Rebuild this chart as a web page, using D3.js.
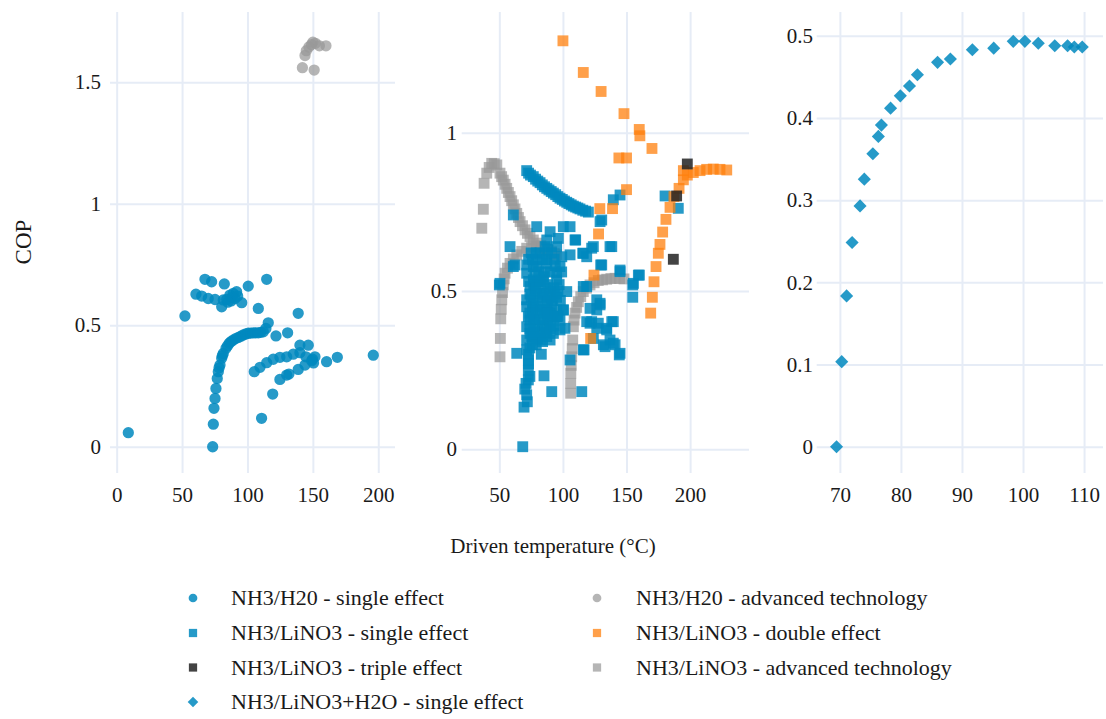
<!DOCTYPE html>
<html><head><meta charset="utf-8">
<script src="https://cdn.jsdelivr.net/npm/d3@7"></script>
<style>
html,body{margin:0;padding:0;background:#fff;}
svg{display:block;font-family:"Liberation Serif","Times New Roman",serif;}
</style></head>
<body><svg id="c" width="1106" height="719"></svg>
<script>
// ---------------- DATA ----------------
const seriesNames = [
  "NH3/H20 - single effect",
  "NH3/LiNO3 - single effect",
  "NH3/LiNO3 - triple effect",
  "NH3/LiNO3+H2O - single effect",
  "NH3/H20 - advanced technology",
  "NH3/LiNO3 - double effect",
  "NH3/LiNO3 - advanced technology"
];
const xTitle = "Driven temperature (°C)";
const yTitle = "COP";

const p1XTicks = [0, 50, 100, 150, 200];
const p1YTicks = [0, 0.5, 1, 1.5];
const p2XTicks = [50, 100, 150, 200];
const p2YTicks = [0, 0.5, 1];
const p3XTicks = [70, 80, 90, 100, 110];
const p3YTicks = [0, 0.1, 0.2, 0.3, 0.4, 0.5];

// Panel 1 – NH3/H2O single effect
const nh3h2oSingle = [
  [8.9,0.058],[52.2,0.538],[60.6,0.628],[65,0.62],[70,0.61],[75.2,0.606],[80.3,0.576],[81.5,0.604],
  [84.1,0.606],[86.6,0.624],[89.1,0.631],[91.7,0.638],[90.4,0.61],[95.6,0.593],[87.5,0.6],[88.5,0.615],
  [85,0.595],[92.5,0.62],[67.5,0.689],[72.6,0.679],[82.3,0.67],[100.6,0.661],[114.7,0.689],[108.3,0.569],
  [138.8,0.549],[115.9,0.51],[121.8,0.456],[130.7,0.469],[140.1,0.418],[146.5,0.418],
  [105.2,0.309],[109.6,0.327],[114.7,0.346],[119.7,0.36],[124.8,0.368],[130,0.37],[135,0.381],[140.1,0.387],
  [144.7,0.37],[149.8,0.36],[151.6,0.37],[160.5,0.35],[168.7,0.368],[196.2,0.377],
  [124.8,0.277],[130,0.295],[131.7,0.299],[138.8,0.318],[144,0.336],[149.1,0.354],[150.5,0.345],
  [119.3,0.217],[110.8,0.117],
  [73.4,0],[73.9,0.093],[74.4,0.158],[75.2,0.199],[75.9,0.24],[76.9,0.281],[77.7,0.309],[78.3,0.325],
  [79,0.336],[80.3,0.364],[80.8,0.375],[81.5,0.384],[83.6,0.405],[84.8,0.416],[86.1,0.426],[87.5,0.433],
  [89.1,0.439],[91,0.445],[93,0.45],[95,0.455],[96.8,0.46],[98.7,0.464],[100.6,0.467],[102.5,0.468],
  [104.4,0.469],[106.3,0.469],[108.3,0.469],[110.2,0.471],[112.1,0.473],[114.1,0.487]
];
// Panel 1 – NH3/H2O advanced technology
const nh3h2oAdvanced = [
  [142,1.56],[151,1.55],[144,1.61],[145,1.63],[147,1.645],[149,1.655],[150,1.665],[152,1.66],[155,1.65],[160,1.65]
];

// Panel 2 – NH3/LiNO3 single effect
const linoSingle = [
  // upper curve
  [71.5,0.88],[73,0.872],[74.5,0.866],[76.7,0.861],[78.5,0.853],[80.2,0.847],[82,0.842],[83.8,0.835],
  [85.5,0.829],[87.3,0.824],[89,0.819],[90.8,0.814],[92.5,0.809],[94.3,0.804],[96,0.798],[97.7,0.793],
  [99.5,0.789],[101.2,0.784],[103,0.78],[104.7,0.776],[106.5,0.772],[108.2,0.768],[110,0.765],[111.7,0.762],
  [113.4,0.759],[115.6,0.755],[117.8,0.752],[120,0.749],
  // scattered
  [68.4,0.008],[69.4,0.133],[71.5,0.172],[91.2,0.182],[114.8,0.182],[85.1,0.232],[71,0.208],[72.8,0.219],
  [72.8,0.25],[72.8,0.282],[63.7,0.303],[105.6,0.282],[116,0.314],[71.5,0.314],[71.5,0.345],[74.1,0.366],
  [76.7,0.356],[82,0.366],[87.3,0.356],[89.9,0.345],[92.5,0.366],[97.7,0.377],[97.7,0.408],[100.3,0.44],
  [121.3,0.398],[126.6,0.44],[71.5,0.387],[74.1,0.408],[79.4,0.43],[84.6,0.408],[89.9,0.43],[95.1,0.44],
  [76.7,0.461],[87.3,0.461],[71.5,0.45],[50,0.519],[123.9,0.35],[131.8,0.33],[137,0.345],[141,0.33],
  [144.3,0.298],[139.6,0.403],[134.4,0.382],[127.8,0.398],[122.6,0.403],[121.3,0.445],[129.2,0.456],
  [126.6,0.472],[118.7,0.514],[129.7,0.582],[138.4,0.64],[144.9,0.561],[155.4,0.524],[154.9,0.48],
  [160.1,0.55],[115.6,0.619],[122.6,0.635],[110,0.661],[99.1,0.608],[105.6,0.614],[100.3,0.44],
  [101.6,0.382],[95.1,0.419],[87.3,0.377],[103,0.498],[95.1,0.535],[97.7,0.577],[87.3,0.598],[76.7,0.577],
  [71.5,0.556],[74.1,0.514],[71.5,0.472],[72.8,0.419],[75.5,0.356],[82,0.345],[87.3,0.44],[82,0.493],
  [89.9,0.482],[84.6,0.535],[79.4,0.598],[61,0.577],[61,0.74],[79.4,0.703],[89.9,0.687],[100.3,0.703],
  [105.6,0.703],[109.5,0.661],[96.4,0.666],[87.3,0.661],[58.4,0.64],[62.3,0.582],[71.5,0.582],[79.4,0.577],
  [87.3,0.587],[50.5,0.524],[76.7,0.535],[84.6,0.545],[95.1,0.556],[116,0.619],[130.5,0.724],[139.6,0.788],
  [144.9,0.803],[180.3,0.8],[190.7,0.761],[123.9,0.64],[118.7,0.608],[130.5,0.582],[144.9,0.566],
  [159.3,0.55],[154.9,0.519],[116,0.514],[129.2,0.461],[118.7,0.403],[126.6,0.382],[138.4,0.403],
  [134.4,0.377],[139.6,0.335],[144.9,0.303],[116.6,0.314],[133.1,0.324],[129.2,0.719],[137,0.64],
  [78,0.5],[80,0.47],[82,0.44],[84,0.48],[86,0.51],[90,0.5],[92,0.47],[94,0.49],[78,0.4],[80,0.38],
  [84,0.39],[88,0.41],[90,0.4],[92,0.42],[76,0.44],[78,0.55],[81,0.56],[86,0.56],[90,0.56],[93,0.6],
  [75,0.62],[82,0.62],[88,0.63],[95,0.64],[74,0.49],[77,0.52],[80,0.53],[88,0.52],[96,0.5],[98,0.47],
  [73,0.27],[74,0.32],[79,0.33],[83,0.3],[72,0.15],[70,0.19],
  [73,0.6],[76,0.6],[79,0.62],[84,0.6],[86,0.64],[91,0.62],[94,0.58],[99,0.56],[97,0.52],
  [73,0.53],[75,0.48],[79,0.51],[82,0.53],[85,0.49],[88,0.47],[91,0.45],[93,0.51],[95,0.48],
  [74,0.43],[77,0.41],[79,0.45],[82,0.41],[85,0.44],[88,0.43],[90,0.38],[93,0.39],[96,0.42],
  [74,0.38],[77,0.37],[80,0.35],[84,0.34],[86,0.37],[74,0.23],[73,0.3],[76,0.33]
];
// Panel 2 – NH3/LiNO3 double effect
const linoDouble = [
  [100,1.29],[116,1.19],[130,1.13],[148,1.06],[160,1.01],[160.5,0.99],[170,0.95],[144,0.92],[150,0.92],
  [150,0.82],[129,0.76],[139,0.76],[128,0.68],[124.4,0.55],[121.8,0.35],
  [169,0.43],[170.3,0.48],[171.6,0.529],[173.2,0.577],[175,0.619],[176.3,0.647],[178.4,0.686],[181,0.726],
  [184.2,0.764],[187.3,0.798],[191.3,0.824],[194.7,0.851],[197.8,0.866],[202.5,0.874],[207.8,0.88],
  [213,0.884],[218.2,0.885],[223.5,0.884],[228.8,0.882],[194.7,0.88]
];
// Panel 2 – NH3/LiNO3 triple effect
const linoTriple = [[197.8,0.901],[189.4,0.8],[186.8,0.6]];
// Panel 2 – NH3/LiNO3 advanced technology
const linoAdvanced = [
  [36.2,0.698],[37.4,0.758],[38,0.84],[40.1,0.872],[42,0.89],[44,0.903],[46,0.902],[48,0.898],[50.5,0.872],
  [51.8,0.861],[53.1,0.85],[54.5,0.837],[55.8,0.824],[57.1,0.811],[58.4,0.798],[59.7,0.785],[61,0.772],
  [62.3,0.759],[63.7,0.745],[65,0.732],[66.3,0.719],[68.2,0.706],[70.2,0.693],[72.1,0.682],[74.1,0.672],
  [76.7,0.661],[79.4,0.651],[82.6,0.643],[85.9,0.635],[88.5,0.63],[91.2,0.624],[93.2,0.619],[95.1,0.614],
  [50.5,0.292],[50.8,0.35],[51.1,0.412],[51.5,0.442],[51.9,0.472],[52.5,0.495],[53.1,0.519],[53.8,0.538],
  [54.5,0.556],[56.4,0.572],[58.4,0.587],[61,0.601],[63.7,0.614],[67.6,0.625],[71.5,0.635],[75.4,0.639],
  [79.4,0.64],[83.3,0.636],[87.3,0.63],[90.5,0.622],[93.8,0.614],
  [106.1,0.177],[106.1,0.208],[106.2,0.24],[106.5,0.265],[106.9,0.292],[107.3,0.318],[107.7,0.345],
  [108.2,0.387],[108.8,0.408],[109.5,0.43],[110.8,0.448],[112.1,0.466],[114,0.482],[116,0.498],
  [118.6,0.509],[121.3,0.519],[124.5,0.526],[127.8,0.533],[131.1,0.535],[134.4,0.537],[137.7,0.539],
  [141,0.54],[144.5,0.539],[148,0.538]
];
// Panel 3 – NH3/LiNO3+H2O single effect
const linoH2OSingle = [
  [69.45,0.0],[70.3,0.1035],[71.1,0.1835],[72.0,0.2485],[73.3,0.293],[74.0,0.3256],[75.4,0.3565],
  [76.3,0.3776],[76.8,0.3914],[78.3,0.412],[79.9,0.427],[81.4,0.439],[82.7,0.4527],[86.0,0.4677],
  [88.1,0.4718],[91.7,0.483],[95.2,0.485],[98.4,0.4933],[100.3,0.4933],[102.5,0.491],[105.2,0.488],
  [107.3,0.488],[108.4,0.4864],[109.7,0.4864]
];

// ---------------- STYLE / LAYOUT ----------------
const C_BLUE = "#0088BE", C_GRAY = "#999999", C_ORANGE = "#FF800E", C_DARK = "#222222";
const FONT_TICK = 21, FONT_TITLE = 21, FONT_LEG = 22;
const GRID = "#E6ECF6";
const SERIF = '"Liberation Serif","Times New Roman",serif';

const svg = d3.select("#c");

const panels = [
  {px:[110,395], py:[12,473], xd:[-5.1,212.8], yd:[-0.108,1.789], xt:p1XTicks, yt:p1YTicks, pad:9,
   series:[{d:nh3h2oAdvanced, c:C_GRAY, s:"circle"}, {d:nh3h2oSingle, c:C_BLUE, s:"circle"}]},
  {px:[461.7,749], py:[12,473], xd:[20.4,246.3], yd:[-0.075,1.381], xt:p2XTicks, yt:p2YTicks, pad:4.7,
   series:[{d:linoAdvanced, c:C_GRAY, s:"square"}, {d:linoSingle, c:C_BLUE, s:"square"},
           {d:linoDouble, c:C_ORANGE, s:"square"}, {d:linoTriple, c:C_DARK, s:"square"}]},
  {px:[816.7,1103], py:[12,473], xd:[66.2,113.1], yd:[-0.032,0.529], xt:p3XTicks, yt:p3YTicks, pad:3.7,
   series:[{d:linoH2OSingle, c:C_BLUE, s:"diamond"}]}
];

function symPath(s, big){
  if(s==="circle") return d3.symbol(d3.symbolCircle, big?100:60)();
  if(s==="square") return d3.symbol(d3.symbolSquare, big?118:68)();
  return d3.symbol(d3.symbolSquare, big?86:56)();
}
const opac = {};
opac[C_BLUE] = 0.85; opac[C_GRAY] = 0.72; opac[C_ORANGE] = 0.75; opac[C_DARK] = 0.85;

panels.forEach(p=>{
  const x = d3.scaleLinear().domain(p.xd).range(p.px);
  const y = d3.scaleLinear().domain(p.yd).range([p.py[1], p.py[0]]);
  const g = svg.append("g");
  const xa = d3.axisBottom(x).tickValues(p.xt).tickSize(-(p.py[1]-p.py[0])).tickPadding(14).tickFormat(d=>String(d));
  const ya = d3.axisLeft(y).tickValues(p.yt).tickSize(-(p.px[1]-p.px[0])).tickPadding(p.pad).tickFormat(d=>String(d));
  const gx = g.append("g").attr("transform",`translate(0,${p.py[1]})`).call(xa);
  const gy = g.append("g").attr("transform",`translate(${p.px[0]},0)`).call(ya);
  [gx,gy].forEach(a=>{
    a.attr("font-family", SERIF);
    a.select(".domain").remove();
    a.selectAll("line").attr("stroke",GRID).attr("stroke-width",2);
    a.selectAll("text").attr("fill","#1a1a1a").attr("font-family", SERIF).style("font-size",FONT_TICK+"px");
  });
  p.series.forEach(se=>{
    g.append("g").selectAll("path").data(se.d).join("path")
      .attr("d", symPath(se.s, true))
      .attr("transform", d=>`translate(${x(d[0])},${y(d[1])})` + (se.s==="diamond"?" rotate(45)":""))
      .attr("fill", se.c).attr("fill-opacity", opac[se.c]);
  });
});

// axis titles
svg.append("text").attr("x",553).attr("y",553).attr("text-anchor","middle").attr("font-family",SERIF)
  .style("font-size",FONT_TITLE+"px").attr("fill","#1a1a1a").text(xTitle);
svg.append("text").attr("transform","translate(31,242) rotate(-90)").attr("text-anchor","middle").attr("font-family",SERIF)
  .style("font-size","23px").attr("fill","#1a1a1a").text(yTitle);

// legend
const legItems = [
  {n:seriesNames[0], c:C_BLUE, s:"circle", col:0, row:0},
  {n:seriesNames[1], c:C_BLUE, s:"square", col:0, row:1},
  {n:seriesNames[2], c:C_DARK, s:"square", col:0, row:2},
  {n:seriesNames[3], c:C_BLUE, s:"diamond", col:0, row:3},
  {n:seriesNames[4], c:C_GRAY, s:"circle", col:1, row:0},
  {n:seriesNames[5], c:C_ORANGE, s:"square", col:1, row:1},
  {n:seriesNames[6], c:C_GRAY, s:"square", col:1, row:2}
];
const legColX = [193, 597], legTextX = [231, 636], legRowY = [598, 633, 667.5, 702];
const lg = svg.append("g").attr("font-family", SERIF);
legItems.forEach(it=>{
  const cx = legColX[it.col], cy = legRowY[it.row];
  lg.append("path").attr("d", symPath(it.s,false))
    .attr("transform",`translate(${cx},${cy})`+(it.s==="diamond"?" rotate(45)":""))
    .attr("fill",it.c).attr("fill-opacity",opac[it.c]);
  lg.append("text").attr("x",legTextX[it.col]).attr("y",cy+7).style("font-size",FONT_LEG+"px")
    .attr("fill","#1a1a1a").text(it.n);
});
</script>
</body></html>
